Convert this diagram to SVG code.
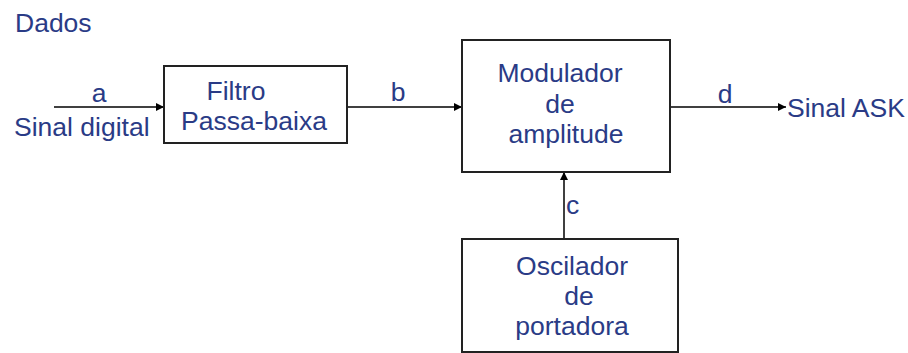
<svg xmlns="http://www.w3.org/2000/svg" width="908" height="353" viewBox="0 0 908 353">
<defs>
<marker id="arr" viewBox="0 0 10 10" refX="10" refY="5" markerWidth="8" markerHeight="8" markerUnits="userSpaceOnUse" orient="auto"><path d="M0,0 L10,5 L0,10 z" fill="#000"/></marker>
</defs>
<style>
.t{font-family:"Liberation Sans",Arial,sans-serif;font-size:26.5px;fill:#2a3b86}
.m{text-anchor:middle}
.box{fill:#fff;stroke:#222;stroke-width:2}
.ln{stroke:#000;stroke-width:1.5;fill:none;marker-end:url(#arr)}
</style>
<rect width="908" height="353" fill="#fff"/>
<text class="t" x="15" y="32">Dados</text>
<g id="connectors">
<line class="ln" x1="54" y1="107" x2="164" y2="107"/>
<line class="ln" x1="347" y1="107" x2="462" y2="107"/>
<line class="ln" x1="670" y1="107" x2="786" y2="107"/>
<line class="ln" x1="564" y1="239" x2="564" y2="172"/>
<text class="t m" x="99" y="102">a</text>
<text class="t m" x="398" y="101">b</text>
<text class="t m" x="725" y="103">d</text>
<text class="t" x="566" y="214">c</text>
</g>
<text class="t" x="14" y="136">Sinal digital</text>
<text class="t" x="787" y="117">Sinal ASK</text>
<g id="filtro">
<rect class="box" x="164" y="66" width="183" height="77"/>
<text class="t m" x="236" y="100">Filtro</text>
<text class="t m" x="254" y="130">Passa-baixa</text>
</g>
<g id="modulador">
<rect class="box" x="462" y="40" width="208" height="132"/>
<text class="t m" x="560" y="82">Modulador</text>
<text class="t m" x="560" y="113">de</text>
<text class="t m" x="566" y="143">amplitude</text>
</g>
<g id="oscilador">
<rect class="box" x="462" y="239" width="216" height="113"/>
<text class="t m" x="572" y="275">Oscilador</text>
<text class="t m" x="579" y="305">de</text>
<text class="t m" x="572" y="335">portadora</text>
</g>
</svg>
